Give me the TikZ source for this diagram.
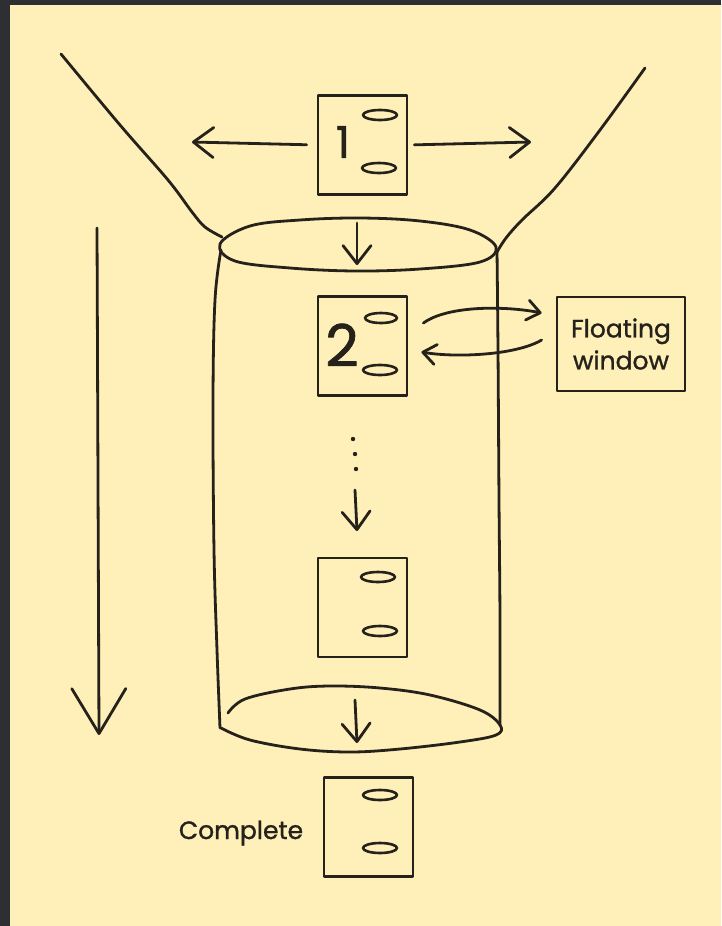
\documentclass[tikz,border=0pt]{standalone}
\usepackage{fontspec}
\setmainfont{Poppins}[FakeBold=1.2]
\usetikzlibrary{arrows.meta}
\definecolor{paper}{HTML}{FFEFB9}
\definecolor{ink}{HTML}{24221A}
\definecolor{frame}{HTML}{2E2F32}
\begin{document}
\begin{tikzpicture}[x=1pt,y=-1pt, line width=2.8pt, draw=ink, line cap=round, line join=round,
  box/.style={draw=ink, rectangle, minimum width=89pt, minimum height=99pt, inner sep=0pt, line width=2.8pt},
  oval/.style={draw=ink, line width=2.6pt},
  digit/.style={text=ink, inner sep=0pt},
  label/.style={text=ink, inner sep=0pt, font=\fontsize{25}{30}\selectfont},
  arr/.style={-{Straight Barb[length=20pt,width=30pt,round]}},
  smallarr/.style={-{Straight Barb[length=18pt,width=28pt,round]}},
  curvearr/.style={-{Straight Barb[length=13pt,width=20pt,round]}},
  bigarr/.style={-{Straight Barb[length=45pt,width=54pt,round]}}]
\useasboundingbox (0,0) rectangle (721,926);
\fill[frame] (0,0) rectangle (721,926);
\fill[paper] (10,5) rectangle (721,926);

% funnel
\draw[ink] plot[smooth, tension=0.6] coordinates {(61,54) (120,125) (168,180) (192,212) (205,227) (222,237)};
\draw[ink] plot[smooth, tension=0.6] coordinates {(645,68) (600,130) (555,188) (522,220) (506,238) (497,252)};

% cylinder
\draw[ink] plot[smooth cycle, tension=0.6] coordinates {(220,244) (250,226) (300,220) (360,218) (420,221) (470,230) (496,247) (480,262) (420,269) (355,271) (290,268) (235,261)};
\draw[ink] plot[smooth, tension=0.6] coordinates {(221,250) (215,300) (213,400) (214,550) (217,650) (220,728)};
\draw[ink] plot[smooth, tension=0.6] coordinates {(497,250) (498,350) (499,500) (500,620) (500,725)};
\draw[ink] plot[smooth, tension=0.6] coordinates {(228,713) (245,699) (290,689) (330,686) (380,688) (430,695) (480,710) (500,725) (496,735) (460,742) (400,749) (350,752) (300,749) (250,740) (221,728)};

% boxes
\node[box] (b1) at (362.5,145) {};
\node[box] (b2) at (362.5,346) {};
\node[box] (b3) at (362.5,607.5) {};
\node[box] (b4) at (368.5,827) {};
\node[box, minimum width=128pt, minimum height=94pt, align=center, inner sep=0pt,
      text=ink, font=\fontsize{25}{32}\selectfont] (fw) at (621,344) {Floating\\window};

% digits
\node[digit, font=\fontsize{44}{44}\selectfont] (d1) at (343,142) {1};
\node[digit, font=\fontsize{58}{58}\selectfont] (d2) at (342,345) {2};

% ovals
\draw[oval] (380,115) ellipse (17 and 5);
\draw[oval] (379,168) ellipse (17 and 5);
\draw[oval] (381,318) ellipse (16 and 5);
\draw[oval] (380,370) ellipse (17 and 5);
\draw[oval] (378,577) ellipse (17 and 5);
\draw[oval] (380,631) ellipse (17 and 5);
\draw[oval] (380,795) ellipse (17 and 5);
\draw[oval] (380,848) ellipse (17 and 5);

% label
\node[label] (done) at (241,833) {Complete};

% coordinates for free ends
\coordinate (la) at (192,142);
\coordinate (ra) at (531,142);
\coordinate (t1) at (357,223);
\coordinate (t2) at (357,265);
\coordinate (m1) at (355,490);
\coordinate (m2) at (357,531);
\coordinate (e1) at (355,700);
\coordinate (e2) at (357,743);
\coordinate (g1) at (97,228);
\coordinate (g2) at (99,735);

% arrows
\draw[arr, shorten <=10pt] (b1.west) -- (la);
\draw[arr, shorten <=6pt] (b1.east) -- (ra);
\draw[smallarr] (t1) -- (t2);
\draw[smallarr] (m1) -- (m2);
\draw[smallarr] (e1) -- (e2);
\draw[bigarr] (g1) -- (g2);
\draw[curvearr] ([xshift=15pt,yshift=23pt]b2.east) .. controls +(25,-18) and +(-35,-7) .. ([xshift=-14pt,yshift=31pt]fw.west);
\draw[curvearr] ([xshift=-14pt,yshift=4pt]fw.west) .. controls +(-25,15) and +(35,6) .. ([xshift=13pt,yshift=-6pt]b2.east);

% dots
\fill[ink] (353,439) circle (2.2);
\fill[ink] (355,454) circle (2.2);
\fill[ink] (356,469) circle (2.2);
\end{tikzpicture}
\end{document}
